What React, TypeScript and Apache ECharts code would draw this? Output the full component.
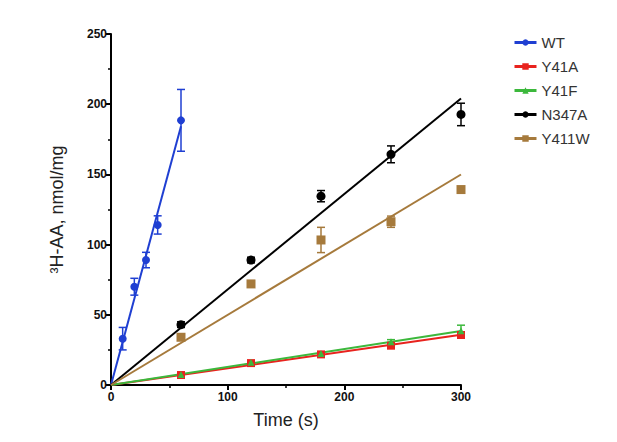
import React, { useEffect, useRef } from "react";
import * as echarts from "echarts";

const seriesNames = ["WT", "Y41A", "Y41F", "N347A", "Y411W"];
const colors = ["#1f3fd2", "#e8231e", "#3cb83c", "#000000", "#a67a3c"];
const symbols = ["circle", "rect", "triangle", "circle", "rect"];
const symbolSizes = [8, 8, 7, 9, 9];

const wtTime = [10, 20, 30, 40, 60];
const mutTime = [60, 120, 180, 240, 300];

const wtValues = [33, 70, 89, 114, 188.5];
const y41aValues = [7.1, 15.6, 21.8, 28.0, 35.6];
const y41fValues = [7.5, 16.2, 22.5, 30.8, 38.6];
const n347aValues = [43, 89, 134.5, 164.3, 192.7];
const y411wValues = [34, 72, 103.3, 116.3, 139.2];

const wtErr = [8, 6, 5.5, 6.5, 22];
const y41aErr = [1, 1, 1, 1, 1.2];
const y41fErr = [1, 1, 1, 1.5, 4];
const n347aErr = [2, 2, 4, 6, 8];
const y411wErr = [2, 2, 9, 4, 2];

const xTicks = [0, 100, 200, 300];
const yTicks = [0, 50, 100, 150, 200, 250];

const datasets = [
  { t: wtTime, v: wtValues, e: wtErr },
  { t: mutTime, v: y41aValues, e: y41aErr },
  { t: mutTime, v: y41fValues, e: y41fErr },
  { t: mutTime, v: n347aValues, e: n347aErr },
  { t: mutTime, v: y411wValues, e: y411wErr },
];

const FONT = "Arial, 'Liberation Sans', Helvetica, sans-serif";

function slopeThroughOrigin(t: number[], v: number[]) {
  let sxy = 0;
  let sxx = 0;
  for (let i = 0; i < t.length; i++) {
    sxy += t[i] * v[i];
    sxx += t[i] * t[i];
  }
  return sxy / sxx;
}

export default function App() {
  const ref = useRef<HTMLDivElement>(null);

  useEffect(() => {
    if (!ref.current) return;
    const chart = echarts.init(ref.current, undefined, { renderer: "svg" });

    const series: any[] = [];
    datasets.forEach((d, i) => {
      const k = slopeThroughOrigin(d.t, d.v);
      const tEnd = d.t[d.t.length - 1];
      series.push({
        name: seriesNames[i],
        type: "line",
        symbol: symbols[i],
        symbolSize: 7,
        data: [
          { value: [0, 0], symbol: "none" },
          { value: [tEnd, k * tEnd], symbol: "none" },
        ],
        lineStyle: { color: colors[i], width: 2 },
        itemStyle: { color: colors[i] },
        z: 2,
        silent: true,
      });
    });
    datasets.forEach((d, i) => {
      series.push({
        name: seriesNames[i],
        type: "custom",
        data: d.t.map((t, j) => [t, d.v[j] - d.e[j], d.v[j] + d.e[j]]),
        encode: { x: 0, y: [1, 2] },
        renderItem: (params: any, api: any) => {
          const x = api.value(0);
          const lo = api.coord([x, api.value(1)]);
          const hi = api.coord([x, api.value(2)]);
          const cap = 4;
          const style = { stroke: colors[i], lineWidth: 1.5 };
          return {
            type: "group",
            children: [
              { type: "line", shape: { x1: lo[0], y1: lo[1], x2: hi[0], y2: hi[1] }, style },
              { type: "line", shape: { x1: lo[0] - cap, y1: lo[1], x2: lo[0] + cap, y2: lo[1] }, style },
              { type: "line", shape: { x1: hi[0] - cap, y1: hi[1], x2: hi[0] + cap, y2: hi[1] }, style },
            ],
          };
        },
        z: 3,
        silent: true,
      });
    });
    datasets.forEach((d, i) => {
      series.push({
        name: seriesNames[i],
        type: "scatter",
        symbol: symbols[i],
        symbolSize: symbolSizes[i],
        data: d.t.map((t, j) => [t, d.v[j]]),
        itemStyle: { color: colors[i], opacity: 1 },
        z: 4,
        silent: true,
      });
    });

    chart.setOption({
      animation: false,
      backgroundColor: "#ffffff",
      grid: { left: 111, right: 156, top: 34, bottom: 57, containLabel: false },
      legend: {
        data: seriesNames,
        orient: "vertical",
        left: 508,
        top: 30,
        itemWidth: 22,
        itemHeight: 8,
        itemGap: 9,
        lineStyle: { width: 3 },
        textStyle: { fontFamily: FONT, fontSize: 15, color: "#333" },
        selectedMode: false,
      },
      xAxis: {
        type: "value",
        min: 0,
        max: 300,
        interval: 100,
        name: "Time (s)",
        nameLocation: "middle",
        nameGap: 26,
        nameTextStyle: { fontFamily: FONT, fontSize: 18, color: "#222" },
        axisLine: { show: true, onZero: false, lineStyle: { color: "#000", width: 2 } },
        axisTick: { show: true, length: 5, lineStyle: { color: "#000", width: 2 } },
        minorTick: { show: true, splitNumber: 2, length: 3, lineStyle: { color: "#000", width: 1.5 } },
        splitLine: { show: false },
        axisLabel: {
          fontFamily: FONT,
          fontSize: 12,
          fontWeight: "bold",
          color: "#111",
          margin: 6,
          customValues: xTicks,
        },
      },
      yAxis: {
        type: "value",
        min: 0,
        max: 250,
        interval: 50,
        name: "³H-AA, nmol/mg",
        nameLocation: "middle",
        nameGap: 45,
        nameTextStyle: { fontFamily: FONT, fontSize: 18, color: "#222" },
        axisLine: { show: true, onZero: false, lineStyle: { color: "#000", width: 2 } },
        axisTick: { show: true, length: 5, lineStyle: { color: "#000", width: 2 } },
        minorTick: { show: true, splitNumber: 2, length: 3, lineStyle: { color: "#000", width: 1.5 } },
        splitLine: { show: false },
        axisLabel: {
          fontFamily: FONT,
          fontSize: 12,
          fontWeight: "bold",
          color: "#111",
          margin: 4,
          customValues: yTicks,
        },
      },
      series,
    });

    return () => chart.dispose();
  }, []);

  return <div ref={ref} style={{ width: 617, height: 442, margin: -8 }} />;
}
